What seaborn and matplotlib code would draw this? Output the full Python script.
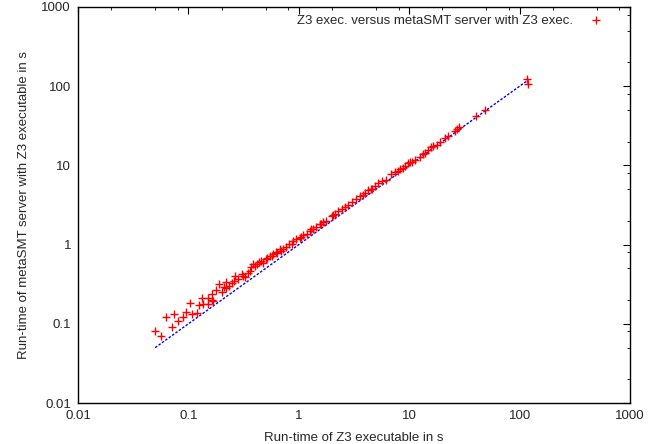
"""
Z3 executable vs metaSMT server run-time scatter (log-log)
"""
import matplotlib
matplotlib.use('Agg')
import matplotlib.pyplot as plt
from matplotlib.ticker import LogLocator, FixedLocator, FixedFormatter, NullFormatter
import pandas as pd
import seaborn as sns

# run-time of Z3 executable in s
z3_time = [0.050, 0.0567, 0.0622, 0.0705, 0.0737, 0.0798, 0.0898, 0.095, 0.103, 0.108,
           0.120, 0.124, 0.133, 0.135, 0.149, 0.151, 0.162, 0.167, 0.162, 0.176,
           0.189, 0.203, 0.220, 0.220, 0.233, 0.249, 0.267, 0.283, 0.303, 0.324,
           0.346, 0.368, 0.386, 0.40, 0.42, 0.44, 0.459, 0.475, 0.50, 0.52,
           0.547, 0.585, 0.628, 0.67, 0.72, 0.76, 0.817, 0.89, 0.948, 1.02,
           1.10, 1.18, 1.26, 1.30, 1.42, 1.55, 1.67, 1.78, 1.98, 2.11,
           2.27, 2.45, 2.62, 2.80, 3.05, 3.30, 3.56, 3.97, 4.25, 4.55,
           4.88, 5.22, 5.7, 6.22, 6.9, 7.4, 8.2, 8.7, 9.1, 9.8,
           10.5, 11.2, 12.5, 13.9, 14.9, 15.8, 17.8, 19.0, 21.3, 25.8,
           28.5, 40.0, 48.2, 117.0, 118.0,
           0.21, 0.26, 0.31, 0.36, 0.57, 0.64, 0.69, 0.86, 1.05, 1.35,
           1.60, 2.05, 3.80, 4.60, 7.9, 10.1, 13.2, 16.5, 22.5, 27.0]
# run-time of metaSMT server with Z3 executable in s
server_time = [0.081, 0.0708, 0.122, 0.091, 0.134, 0.110, 0.122, 0.142, 0.183, 0.134,
               0.137, 0.173, 0.214, 0.180, 0.176, 0.210, 0.198, 0.194, 0.241, 0.265,
               0.316, 0.253, 0.283, 0.342, 0.304, 0.328, 0.407, 0.363, 0.424, 0.393,
               0.441, 0.525, 0.568, 0.53, 0.57, 0.60, 0.618, 0.58, 0.66, 0.68,
               0.715, 0.77, 0.80, 0.868, 0.88, 0.93, 1.006, 1.10, 1.16, 1.22,
               1.31, 1.38, 1.48, 1.57, 1.66, 1.80, 1.93, 1.98, 2.30, 2.42,
               2.62, 2.78, 2.98, 3.18, 3.45, 3.72, 4.05, 4.46, 4.9, 5.1,
               5.52, 5.97, 6.3, 6.58, 7.76, 8.33, 8.98, 9.4, 9.9, 10.7,
               11.2, 11.8, 12.9, 14.5, 15.7, 16.9, 18.2, 19.9, 21.9, 27.5,
               30.4, 41.8, 50.7, 121.7, 107.0,
               0.29, 0.35, 0.40, 0.47, 0.72, 0.79, 0.84, 1.02, 1.24, 1.58,
               1.84, 2.36, 4.25, 5.05, 8.6, 10.9, 13.9, 17.4, 23.4, 28.6]

# diagonal reference (y = x)
diag_x = [0.05, 120.0]
diag_y = [0.05, 120.0]

tick_vals = [0.01, 0.1, 1, 10, 100, 1000]
tick_labels = ['0.01', '0.1', '1', '10', '100', '1000']

df = pd.DataFrame({'z3': z3_time, 'server': server_time})

sns.set_style('white')
plt.rcParams['font.family'] = ['Liberation Sans', 'DejaVu Sans']
plt.rcParams['font.size'] = 9.5

fig = plt.figure(figsize=(6.62, 4.44), dpi=100)
ax = fig.add_axes([78 / 662, 41 / 444, 552 / 662, 396 / 444])

ax.plot(diag_x, diag_y, color='#0000ff', linestyle=(0, (1.8, 1.2)), linewidth=1.0, zorder=1)
sns.scatterplot(data=df, x='z3', y='server', ax=ax, marker='+', color='#ff0000',
                s=40, linewidth=1.0, zorder=2,
                label='Z3 exec. versus metaSMT server with Z3 exec.')

ax.set_xscale('log')
ax.set_yscale('log')
ax.set_xlim(0.01, 1000)
ax.set_ylim(0.01, 1000)

for axis in (ax.xaxis, ax.yaxis):
    axis.set_major_locator(FixedLocator(tick_vals))
    axis.set_major_formatter(FixedFormatter(tick_labels))
    axis.set_minor_locator(LogLocator(base=10, subs=(2, 5, 8)))
    axis.set_minor_formatter(NullFormatter())

ax.tick_params(which='major', direction='in', length=5, width=0.8, top=True, right=True,
               labelsize=9.5, pad=5, color='black')
ax.tick_params(which='minor', direction='in', length=2.5, width=0.6, top=True, right=True,
               color='black')
for sp in ax.spines.values():
    sp.set_color('black')
    sp.set_linewidth(1.0)

ax.set_xlabel('Run-time of Z3 executable in s', fontsize=9.5, labelpad=7)
ax.set_ylabel('Run-time of metaSMT server with Z3 executable in s', fontsize=9.5, labelpad=8)

leg = ax.legend(loc='upper right', frameon=False, markerfirst=False, fontsize=9.5,
                bbox_to_anchor=(0.979, 1.004), handletextpad=0.75, borderaxespad=0.3)

fig.savefig('out.png', dpi=100)
